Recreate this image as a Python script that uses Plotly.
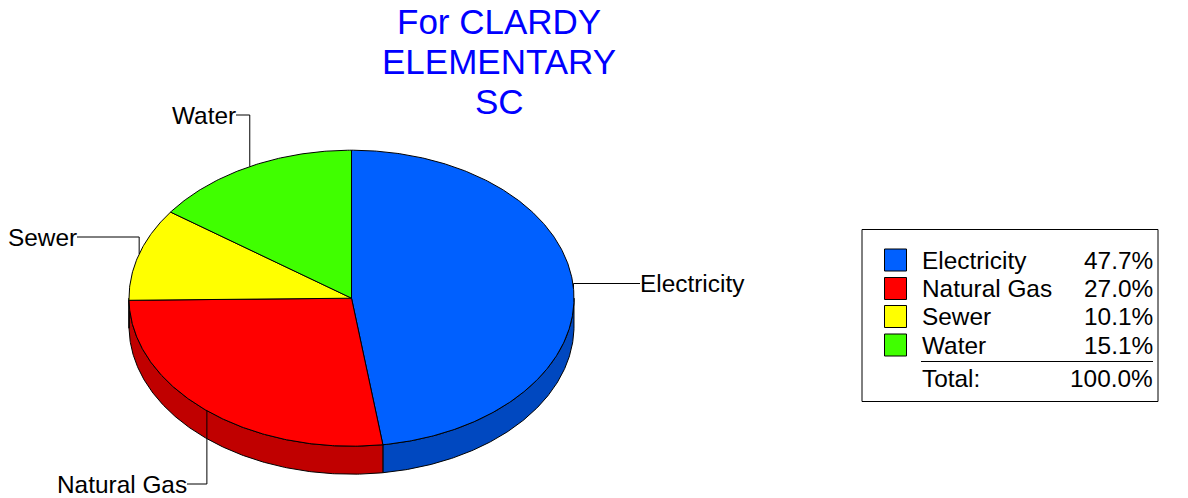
import math
import plotly.graph_objects as go

title_lines = ["For CLARDY", "ELEMENTARY", "SC"]
categories = ["Electricity", "Natural Gas", "Sewer", "Water"]
values = [47.7, 27.0, 10.1, 15.1]
value_labels = ["47.7%", "27.0%", "10.1%", "15.1%"]
total_label = "100.0%"
top_colors = ["#0060ff", "#ff0000", "#ffff00", "#40ff00"]
wall_colors = ["#0048c0", "#c00000", "#c0c000", "#30c000"]

FONT = "Liberation Sans, Arial, sans-serif"
CX, CY, RX, RY, DEPTH = 351.5, 298.2, 222.5, 148.0, 28.0
# label text edge + y for each leader line: (x the line ends at, y of the horizontal run, anchor side)
label_pos = [(640, 283.5, "left"), (187, 484, "right"), (77, 237, "right"), (236, 115, "right")]


def pt(deg, dy=0.0):
    r = math.radians(deg)
    return CX + RX * math.sin(r), CY - RY * math.cos(r) + dy


def arc(a0, a1, dy=0.0):
    n = max(2, int(abs(a1 - a0) * 2))
    return [pt(a0 + (a1 - a0) * i / n, dy) for i in range(n + 1)]


total = sum(values)
edges = [0.0]
for v in values:
    edges.append(edges[-1] + v / total * 360)

fig = go.Figure()


def poly(points, fill):
    fig.add_trace(go.Scatter(
        x=[p[0] for p in points], y=[p[1] for p in points], mode="lines",
        fill="toself", fillcolor=fill, line=dict(color="#000000", width=1),
        hoverinfo="skip", showlegend=False))


def line(points, color="#000000", width=1):
    fig.add_trace(go.Scatter(
        x=[p[0] for p in points], y=[p[1] for p in points], mode="lines",
        line=dict(color=color, width=width), hoverinfo="skip", showlegend=False))


# Side walls: only the front half of the disc (90..270 deg) shows
for i in range(len(values)):
    a0, a1 = max(edges[i], 90), min(edges[i + 1], 270)
    if a1 > a0:
        poly(arc(a0, a1) + arc(a1, a0, DEPTH) + [pt(a0)], wall_colors[i])

# Top face
for i in range(len(values)):
    poly([(CX, CY)] + arc(edges[i], edges[i + 1]) + [(CX, CY)], top_colors[i])

# Leader lines, anchored at each slice's mid angle
for i, (lx, ly, side) in enumerate(label_pos):
    ax, ay = pt((edges[i] + edges[i + 1]) / 2)
    line([(ax, ay), (ax, ly), (lx, ly)])

annotations = []


def text(x, y, s, anchor="left", size=24.4, color="#000000"):
    annotations.append(dict(
        x=x, y=y, xref="x", yref="y", text=s, showarrow=False, xanchor=anchor,
        yanchor="middle", xshift=0, borderpad=0, borderwidth=0,
        font=dict(family=FONT, size=size, color=color)))


for i, s in enumerate(title_lines):
    text(499, 21.5 + 40 * i, s, "center", 35, "#0000ff")

for (lx, ly, side), c in zip(label_pos, categories):
    text(lx, ly, c, side)

# Legend box
shapes = [dict(type="rect", x0=862, y0=229.5, x1=1158, y1=401.5, xref="x", yref="y",
               line=dict(color="#000000", width=1), fillcolor="#ffffff", layer="below")]
row_y = [260, 288.5, 316.5, 345]
for y, c, col, v in zip(row_y, categories, top_colors, value_labels):
    shapes.append(dict(type="rect", x0=884.5, x1=906.5, y0=y - 11, y1=y + 11, xref="x", yref="y",
                       line=dict(color="#000000", width=1), fillcolor=col))
    text(921.5, y, c)
    text(1153, y, v, "right")
shapes.append(dict(type="line", x0=921, x1=1153, y0=361.5, y1=361.5, xref="x", yref="y",
                   line=dict(color="#000000", width=1)))
text(921.5, 378.5, "Total:")
text(1153, 378.5, total_label, "right")

fig.update_layout(
    width=1188, height=498, autosize=False,
    margin=dict(l=0, r=0, t=0, b=0),
    paper_bgcolor="#ffffff", plot_bgcolor="#ffffff",
    showlegend=False, annotations=annotations, shapes=shapes,
    xaxis=dict(range=[0, 1188], visible=False, fixedrange=True),
    yaxis=dict(range=[498, 0], visible=False, fixedrange=True),
)
fig.write_html("out.html", config={"displayModeBar": False, "responsive": False},
               post_script="document.documentElement.style.overflow='hidden';document.body.style.margin='0';")
